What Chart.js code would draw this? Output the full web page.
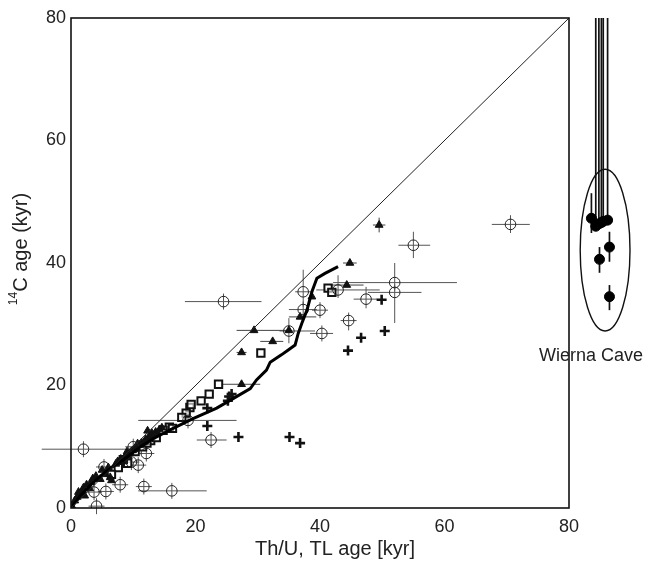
<!DOCTYPE html>
<html>
<head>
<meta charset="utf-8">
<script src="https://cdn.jsdelivr.net/npm/chart.js@4.4.1/dist/chart.umd.min.js"></script>
<style>
  html, body { margin: 0; padding: 0; background: #fff; }
</style>
</head>
<body>
<canvas id="ageChart" width="650" height="563"></canvas>
<script>
// tick values shared by both axes
const axisTicks = [0, 20, 40, 60, 80]

// 1:1 reference line
const oneToOne = [{x: 0, y: 0}, {x: 80, y: 80}]

// calibration curve (Th/U age vs 14C age)
const calibCurve = [
  {x: 0, y: 0}, {x: 1.5, y: 2.0}, {x: 3, y: 3.6}, {x: 4.7, y: 5.2}, {x: 6.5, y: 6.6},
  {x: 9, y: 8.3}, {x: 11, y: 9.9}, {x: 13.2, y: 11.3}, {x: 16, y: 12.8}, {x: 19.6, y: 14.6},
  {x: 23.4, y: 16.3}, {x: 26.1, y: 17.9}, {x: 28.8, y: 19.5}, {x: 29.8, y: 20.9}, {x: 31.4, y: 22.5},
  {x: 32.0, y: 23.8}, {x: 33.8, y: 25.0}, {x: 34.9, y: 25.8}, {x: 36.0, y: 26.6}, {x: 36.5, y: 28.5},
  {x: 37.1, y: 30.2}, {x: 37.9, y: 32.3}, {x: 38.7, y: 35.3}, {x: 39.5, y: 37.5}, {x: 40.8, y: 38.3},
  {x: 42.9, y: 39.4}
]

// open circles with error ranges
const circleDates = [
  {x: 24.5, y: 33.7, xMin: 18.3, xMax: 30.6},
  {x: 37.3, y: 35.3, yMin: 32.9, yMax: 38.9},
  {x: 37.3, y: 32.4, xMin: 35.0, xMax: 39.5},
  {x: 40.0, y: 32.3},
  {x: 40.3, y: 28.5, xMin: 38.4, xMax: 42.1},
  {x: 42.9, y: 35.6, xMin: 39.4, xMax: 49.6, yMin: 34.5, yMax: 38.0},
  {x: 47.4, y: 34.1, xMin: 45.4, xMax: 49.2, yMin: 32.6, yMax: 36.1},
  {x: 44.6, y: 30.6, yMin: 29.0, yMax: 31.8},
  {x: 70.6, y: 46.3, xMin: 67.6, xMax: 73.7, yMin: 44.9, yMax: 47.8},
  {x: 55.0, y: 42.9, xMin: 52.6, xMax: 57.7, yMin: 40.8, yMax: 45.1},
  {x: 52.0, y: 36.8, xMin: 42.1, xMax: 62.0, yMax: 40.0},
  {x: 52.0, y: 35.2, xMin: 47.7, xMax: 56.3, yMin: 30.2},
  {x: 35.0, y: 28.9, xMin: 33.5, xMax: 39.2, yMin: 26.9, yMax: 31.0},
  {x: 2.0, y: 9.6, xMin: -4.7, xMax: 10.0},
  {x: 22.5, y: 11.1, xMin: 20.2, xMax: 25.0},
  {x: 16.2, y: 2.8, xMin: 10.8, xMax: 21.8},
  {x: 11.7, y: 3.5, xMin: 10.8, xMax: 12.7},
  {x: 4.1, y: 0.3},
  {x: 3.7, y: 2.6},
  {x: 5.6, y: 2.7},
  {x: 7.9, y: 3.8},
  {x: 5.3, y: 6.7},
  {x: 9.7, y: 7.5},
  {x: 10.8, y: 7.0},
  {x: 12.1, y: 8.9},
  {x: 10.0, y: 10.0},
  {x: 18.8, y: 14.3, xMin: 10.8, xMax: 26.6}
]

// filled triangles
const triangleDates = [
  {x: 29.4, y: 29.0, xMin: 26.6, xMax: 35.2},
  {x: 35.0, y: 29.0},
  {x: 32.4, y: 27.2, xMin: 30.4, xMax: 34.1},
  {x: 27.4, y: 25.4, xMin: 26.6, xMax: 28.2},
  {x: 27.4, y: 20.2, xMin: 24.2, xMax: 30.4},
  {x: 36.8, y: 31.2, xMin: 35.0, xMax: 39.4},
  {x: 38.7, y: 34.5},
  {x: 44.3, y: 36.4, xMin: 41.6, xMax: 47.0},
  {x: 44.8, y: 40.0, xMin: 43.7, xMax: 45.9},
  {x: 49.5, y: 46.2, xMin: 48.5, xMax: 50.5, yMin: 45.0, yMax: 47.4},
  {x: 0.2, y: 0.2}, {x: 6.3, y: 5.0}, {x: 4.7, y: 4.7}, {x: 1.5, y: 2.3}, {x: 6.5, y: 4.5},
  {x: 2.5, y: 3.8}, {x: 3.5, y: 4.8}, {x: 5.0, y: 6.2}, {x: 6.0, y: 6.6}, {x: 7.2, y: 7.2},
  {x: 8.0, y: 8.0}, {x: 8.8, y: 8.6}, {x: 9.5, y: 9.0}, {x: 10.2, y: 9.6}, {x: 11.0, y: 10.3},
  {x: 11.8, y: 10.8}, {x: 12.5, y: 11.6}, {x: 13.0, y: 12.2}, {x: 13.6, y: 12.4}, {x: 12.3, y: 12.6},
  {x: 14.2, y: 12.8}, {x: 10.7, y: 10.5}, {x: 9.0, y: 9.2}, {x: 1.0, y: 1.8}, {x: 0.6, y: 1.2},
  {x: 1.8, y: 2.8}, {x: 3.0, y: 3.2}, {x: 2.2, y: 2.0}, {x: 4.0, y: 5.2},
  {x: 7.5, y: 7.6}, {x: 8.3, y: 7.8}, {x: 9.2, y: 8.4}, {x: 9.9, y: 9.4}, {x: 10.5, y: 9.9},
  {x: 11.3, y: 10.6}, {x: 12.0, y: 11.2}, {x: 12.8, y: 11.9}, {x: 13.4, y: 12.0}, {x: 14.6, y: 13.1},
  {x: 1.2, y: 2.6}, {x: 2.0, y: 3.3}, {x: 3.2, y: 4.2}, {x: 5.5, y: 5.5}
]

// open squares
const squareDates = [
  {x: 41.3, y: 35.9}, {x: 41.9, y: 35.2}, {x: 30.5, y: 25.3}, {x: 23.7, y: 20.2}, {x: 22.2, y: 18.6},
  {x: 20.9, y: 17.5}, {x: 19.1, y: 16.4}, {x: 19.3, y: 16.9}, {x: 18.5, y: 15.5}, {x: 17.8, y: 14.8},
  {x: 15.8, y: 13.2}, {x: 14.8, y: 12.7}, {x: 16.3, y: 13.0}, {x: 7.6, y: 6.6}, {x: 9.1, y: 7.3},
  {x: 12.8, y: 11.0}, {x: 11.5, y: 10.0}, {x: 13.7, y: 11.5}, {x: 6.5, y: 5.5},
  {x: 8.4, y: 7.9}, {x: 10.3, y: 9.2}, {x: 12.2, y: 10.6}
]

// crosses
const crossDates = [
  {x: 49.9, y: 34.0}, {x: 50.4, y: 28.9}, {x: 46.6, y: 27.8}, {x: 44.5, y: 25.7}, {x: 35.1, y: 11.6},
  {x: 36.8, y: 10.6}, {x: 26.9, y: 11.6}, {x: 21.9, y: 13.4}, {x: 21.9, y: 16.3}, {x: 25.4, y: 18.2},
  {x: 25.2, y: 17.5}, {x: 25.8, y: 18.6}
]

// Wierna Cave, drawn off to the right of the main frame
const wiernaDates = [
  {x: 83.6, y: 47.3, yMin: 44.9, yMax: 51.4},
  {x: 84.3, y: 46.0, yMax: 80},
  {x: 84.8, y: 46.4, yMax: 80},
  {x: 85.2, y: 46.6, yMax: 80},
  {x: 85.5, y: 46.8, yMax: 80},
  {x: 86.2, y: 47.0, yMax: 80},
  {x: 86.5, y: 42.6, yMin: 40.2, yMax: 45.1},
  {x: 84.9, y: 40.6, yMin: 38.4, yMax: 42.6},
  {x: 86.5, y: 34.5, yMin: 32.3, yMax: 36.4}
]

const fontFamily = "'Liberation Sans', Arial, sans-serif"
Chart.defaults.font.family = fontFamily

// error bars, drawn under the markers; "cross" gives a minimum half length in px
const errorBars = {
  id: 'errorBars',
  beforeDatasetsDraw(chart) {
    const {ctx, scales: {x, y}} = chart
    chart.data.datasets.forEach((ds, i) => {
      if (!ds.bars) return
      const meta = chart.getDatasetMeta(i)
      ctx.save()
      ctx.strokeStyle = ds.bars.color
      ctx.lineWidth = ds.bars.width
      meta.data.forEach((pt, j) => {
        const d = ds.data[j]
        const c = ds.bars.cross || 0
        let x0 = pt.x - c, x1 = pt.x + c, y0 = pt.y + c, y1 = pt.y - c
        if (d.xMin != null) x0 = Math.min(x0, x.getPixelForValue(d.xMin))
        if (d.xMax != null) x1 = Math.max(x1, x.getPixelForValue(d.xMax))
        if (d.yMin != null) y0 = Math.max(y0, y.getPixelForValue(d.yMin))
        if (d.yMax != null) y1 = Math.min(y1, y.getPixelForValue(d.yMax))
        ctx.beginPath()
        if (x1 > x0) { ctx.moveTo(x0, pt.y); ctx.lineTo(x1, pt.y) }
        if (y0 > y1) { ctx.moveTo(pt.x, y0); ctx.lineTo(pt.x, y1) }
        ctx.stroke()
      })
      ctx.restore()
    })
  }
}

// frame around 0-80, the Wierna ellipse and the text labels
const decorations = {
  id: 'decorations',
  afterDraw(chart) {
    const {ctx, scales: {x, y}} = chart
    ctx.save()
    ctx.strokeStyle = '#111'
    ctx.lineWidth = 1.6
    ctx.strokeRect(x.getPixelForValue(0), y.getPixelForValue(80),
      x.getPixelForValue(80) - x.getPixelForValue(0), y.getPixelForValue(0) - y.getPixelForValue(80))

    // ellipse round the Wierna Cave dates
    const cx = x.getPixelForValue(85.8), cy = y.getPixelForValue(42.1)
    const rx = x.getPixelForValue(85.8 + 4.0) - cx, ry = cy - y.getPixelForValue(42.1 + 13.2)
    ctx.lineWidth = 1.4
    ctx.beginPath()
    ctx.ellipse(cx, cy, rx, ry, 0, 0, Math.PI * 2)
    ctx.stroke()

    ctx.fillStyle = '#222'
    ctx.textBaseline = 'middle'
    ctx.textAlign = 'center'
    ctx.font = '18px ' + fontFamily
    ctx.fillText('Wierna Cave', 591, 356)

    ctx.font = '20px ' + fontFamily
    ctx.fillText('Th/U, TL age [kyr]', 335, 549)

    // y title with superscript 14
    ctx.translate(21, 249)
    ctx.rotate(-Math.PI / 2)
    ctx.font = '12px ' + fontFamily
    const supW = ctx.measureText('14').width
    ctx.font = '20px ' + fontFamily
    const mainW = ctx.measureText('C age (kyr)').width
    const start = -(supW + mainW) / 2
    ctx.textAlign = 'left'
    ctx.fillText('C age (kyr)', start + supW, 0)
    ctx.font = '12px ' + fontFamily
    ctx.fillText('14', start, -7)
    ctx.restore()
  }
}

const canvas = document.querySelector('#ageChart')

new Chart(canvas, {
  type: 'scatter',
  data: {
    datasets: [
      {
        label: '1:1',
        data: oneToOne,
        showLine: true,
        borderColor: '#222',
        borderWidth: 1,
        pointRadius: 0
      },
      {
        label: 'curve',
        data: calibCurve,
        showLine: true,
        borderColor: '#000',
        borderWidth: 3,
        pointRadius: 0
      },
      {
        label: 'circles',
        data: circleDates,
        pointStyle: 'circle',
        pointRadius: 5.3,
        borderColor: '#222',
        borderWidth: 1,
        backgroundColor: 'rgba(255,255,255,0)',
        bars: {color: '#555', width: 1, cross: 8}
      },
      {
        label: 'triangles',
        data: triangleDates,
        pointStyle: 'triangle',
        pointRadius: 4.5,
        borderColor: '#111',
        borderWidth: 1,
        backgroundColor: '#111',
        bars: {color: '#444', width: 1}
      },
      {
        label: 'squares',
        data: squareDates,
        pointStyle: 'rect',
        pointRadius: 5.2,
        borderColor: '#111',
        borderWidth: 2,
        backgroundColor: 'rgba(255,255,255,0.6)'
      },
      {
        label: 'crosses',
        data: crossDates,
        pointStyle: 'cross',
        pointRadius: 5,
        borderColor: '#111',
        borderWidth: 2.6
      },
      {
        label: 'Wierna Cave',
        data: wiernaDates,
        pointStyle: 'circle',
        pointRadius: 5,
        borderColor: '#000',
        borderWidth: 1,
        backgroundColor: '#000',
        bars: {color: '#111', width: 1.7}
      }
    ]
  },
  options: {
    responsive: false,
    animation: false,
    layout: {padding: {top: 18, right: 18.75, bottom: 0, left: 0}},
    plugins: {
      legend: {display: false},
      tooltip: {enabled: false}
    },
    scales: {
      x: {
        type: 'linear',
        min: 0,
        max: 90,
        grid: {display: false, drawTicks: false},
        border: {display: false},
        afterBuildTicks: s => { s.ticks = axisTicks.map(v => ({value: v})) },
        afterFit: s => { s.height = 55 },
        ticks: {font: {size: 18}, color: '#222', padding: 8}
      },
      y: {
        type: 'linear',
        min: 0,
        max: 80,
        grid: {display: false, drawTicks: false},
        border: {display: false},
        afterBuildTicks: s => { s.ticks = axisTicks.map(v => ({value: v})) },
        afterFit: s => { s.width = 71 },
        ticks: {font: {size: 18}, color: '#222', padding: 5}
      }
    }
  },
  plugins: [errorBars, decorations]
})
</script>
</body>
</html>
